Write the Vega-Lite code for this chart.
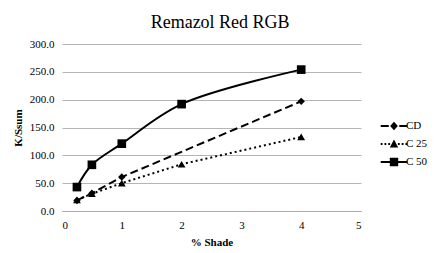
{
  "$schema": "https://vega.github.io/schema/vega-lite/v6.json",
  "autosize": {"type": "none"},
  "width": 299,
  "height": 167,
  "padding": {"left": 62, "top": 44, "right": 80, "bottom": 42},
  "background": "white",
  "title": {"text": "Remazol Red RGB", "font": "Liberation Serif, DejaVu Serif, serif", "fontSize": 18, "fontWeight": "normal", "color": "#000", "anchor": "middle", "frame": "bounds", "offset": 6},
  "data": {"values": [
    {"shade": 0.25, "ks": 19, "series": "CD"},
    {"shade": 0.5, "ks": 32, "series": "CD"},
    {"shade": 1, "ks": 61, "series": "CD"},
    {"shade": 4, "ks": 197, "series": "CD"},
    {"shade": 0.25, "ks": 20, "series": "C 25"},
    {"shade": 0.5, "ks": 31, "series": "C 25"},
    {"shade": 1, "ks": 50, "series": "C 25"},
    {"shade": 2, "ks": 84, "series": "C 25"},
    {"shade": 4, "ks": 133, "series": "C 25"},
    {"shade": 0.25, "ks": 43, "series": "C 50"},
    {"shade": 0.5, "ks": 83, "series": "C 50"},
    {"shade": 1, "ks": 121, "series": "C 50"},
    {"shade": 2, "ks": 192, "series": "C 50"},
    {"shade": 4, "ks": 254, "series": "C 50"}
  ]},
  "encoding": {
    "x": {"field": "shade", "type": "quantitative", "scale": {"domain": [0, 5]},
      "axis": {"title": "% Shade", "values": [0, 1, 2, 3, 4, 5], "format": "d", "grid": false, "ticks": false, "domainColor": "#aaaaaa", "labelPadding": 8, "titlePadding": 6,
        "labelFont": "Liberation Serif", "labelFontSize": 11, "labelColor": "#000", "titleFont": "Liberation Serif", "titleFontSize": 11, "titleFontWeight": "bold", "titleColor": "#000"}},
    "y": {"field": "ks", "type": "quantitative", "scale": {"domain": [0, 300]},
      "axis": {"title": "K/Ssum", "values": [0, 50, 100, 150, 200, 250, 300], "format": ".1f", "domain": false, "ticks": false, "gridColor": "#b5b5b5", "labelPadding": 8, "titlePadding": 6,
        "labelFont": "Liberation Serif", "labelFontSize": 11, "labelColor": "#000", "titleFont": "Liberation Serif", "titleFontSize": 11, "titleFontWeight": "bold", "titleColor": "#000"}}
  },
  "layer": [
    {
      "transform": [{"filter": "datum.series != 'C 50'"}],
      "mark": {"type": "line", "color": "black", "strokeWidth": 2},
      "encoding": {
        "strokeDash": {"field": "series", "type": "nominal",
          "scale": {"domain": ["CD", "C 25"], "range": [[8, 4], [2, 3]]}, "legend": null}
      }
    },
    {
      "transform": [{"filter": "datum.series == 'C 50'"}],
      "mark": {"type": "line", "color": "black", "strokeWidth": 2, "interpolate": "catmull-rom"},
      "encoding": {}
    },
    {
      "transform": [{"filter": "datum.series == 'CD'"}],
      "mark": {"type": "point", "filled": true, "color": "black", "opacity": 1, "shape": "diamond", "size": 55},
      "encoding": {}
    },
    {
      "transform": [{"filter": "datum.series == 'C 25'"}],
      "mark": {"type": "point", "filled": true, "color": "black", "opacity": 1, "shape": "triangle-up", "size": 60},
      "encoding": {}
    },
    {
      "transform": [{"filter": "datum.series == 'C 50'"}],
      "mark": {"type": "point", "filled": true, "color": "black", "opacity": 1, "shape": "square", "size": 75},
      "encoding": {}
    },
    {
      "mark": {"type": "point", "filled": true, "color": "black", "opacity": 0},
      "encoding": {
        "shape": {"field": "series", "type": "nominal",
          "scale": {"domain": ["CD", "C 25", "C 50"], "range": [
            "M-1.9,-0.14L-0.75,-0.14L-0.75,0.14L-1.9,0.14ZM0.75,-0.14L1.9,-0.14L1.9,0.14L0.75,0.14ZM0,-0.6L0.55,0L0,0.6L-0.55,0Z",
            "M-1.9,-0.14L-1.64,-0.14L-1.64,0.14L-1.9,0.14ZM-1.36,-0.14L-1.1,-0.14L-1.1,0.14L-1.36,0.14ZM-0.82,-0.14L-0.56,-0.14L-0.56,0.14L-0.82,0.14ZM0.56,-0.14L0.82,-0.14L0.82,0.14L0.56,0.14ZM1.1,-0.14L1.36,-0.14L1.36,0.14L1.1,0.14ZM1.64,-0.14L1.9,-0.14L1.9,0.14L1.64,0.14ZM0,-0.65L0.6,0.5L-0.6,0.5Z",
            "M-1.9,-0.14L1.9,-0.14L1.9,0.14L-1.9,0.14ZM-0.6,-0.6L0.6,-0.6L0.6,0.6L-0.6,0.6Z"
          ]},
          "legend": {"title": null, "symbolSize": 196, "labelOffset": 5, "symbolOpacity": 1, "symbolFillColor": "black", "symbolStrokeColor": "black", "symbolStrokeWidth": 0}
        }
      }
    }
  ],
  "config": {
    "view": {"stroke": null},
    "legend": {"orient": "none", "legendX": 325, "legendY": 75, "labelFont": "Liberation Serif", "labelFontSize": 11, "labelColor": "#000", "rowPadding": 6}
  }
}
